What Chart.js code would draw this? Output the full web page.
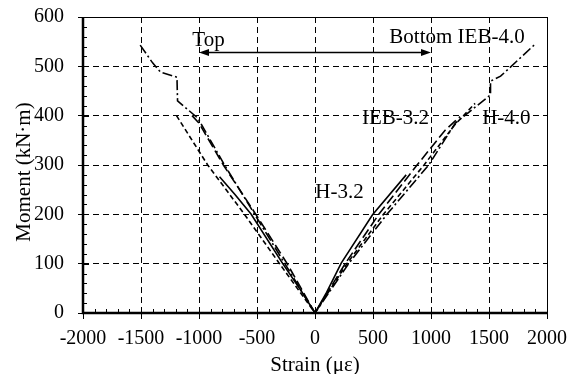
<!DOCTYPE html>
<html>
<head>
<meta charset="utf-8">
<script src="https://cdn.jsdelivr.net/npm/chart.js@4.4.1/dist/chart.umd.min.js"></script>
<style>
  html, body { margin: 0; padding: 0; background: #fff; }
  #wrap { width: 578px; height: 374px; }
</style>
</head>
<body>
<div id="wrap"><canvas id="momentChart" width="578" height="374"></canvas></div>
<script>
// Each curve runs from the top-fibre tip (negative strain) down through the origin
// and up to the bottom-fibre tip (positive strain). Strain in με, moment in kN·m.
const h32Strain = [-823, -690, -550, -278, -120, 0, 100, 226, 496, 786];
const h32Moment = [276, 240, 200, 100, 45, 0, 42, 101, 199, 280];

const ieb32Strain = [-1060, -1000, -790, -510, -240, 0, 260, 550, 880, 1120, 1250];
const ieb32Moment = [400, 385, 300, 200, 100, 0, 100, 200, 300, 370, 398];

const h40Strain = [-1194, -925, -608, -306, 0, 275, 590, 940, 1200, 1380];
const h40Moment = [400, 300, 200, 100, 0, 100, 200, 300, 380, 425];

const ieb40Strain = [-1507, -1400, -1330, -1190, -1185, -1010, -780, -520, -260, 0,
                     290, 620, 980, 1210, 1513, 1513, 1600, 1907];
const ieb40Moment = [543, 507, 488, 478, 430, 395, 300, 200, 100, 0,
                     100, 200, 300, 385, 442, 470, 480, 547];

// axis ticks
const xTicks = [-2000, -1500, -1000, -500, 0, 500, 1000, 1500, 2000];
const yTicks = [0, 100, 200, 300, 400, 500, 600];

// text written on the plot, placed at data coordinates
const noteText = ['Top', 'Bottom IEB-4.0', 'IEB-3.2', 'H-4.0', 'H-3.2'];
const noteX = [-918, 1224, 694, 1650, 211];
const noteY = [553, 559, 395, 395, 245];

// double arrow between top and bottom fibres
const arrowX = [-1000, 1000];
const arrowY = 530;

const serif = "'Liberation Serif', 'Times New Roman', serif";

function toPoints(xs, ys) {
    return xs.map((x, i) => ({ x: x, y: ys[i] }));
}

function curve(label, xs, ys, dash) {
    return {
        label: label,
        data: toPoints(xs, ys),
        showLine: true,
        borderColor: '#000',
        borderWidth: 1.6,
        borderDash: dash,
        pointRadius: 0,
        fill: false,
        tension: 0
    };
}

// minor ticks inside the frame, frame lines, arrow, notes and axis titles
const decorPlugin = {
    id: 'decor',
    afterDatasetsDraw(chart) {
        const ctx = chart.ctx;
        const xs = chart.scales.x;
        const ys = chart.scales.y;
        const a = chart.chartArea;
        ctx.save();
        ctx.strokeStyle = '#000';
        ctx.fillStyle = '#000';

        // inward ticks
        ctx.lineWidth = 1;
        ctx.beginPath();
        for (let v = -2000; v <= 2000; v += 100) {
            const px = Math.round(xs.getPixelForValue(v)) + 0.5;
            const len = (v % 500 === 0) ? 6 : 4;
            ctx.moveTo(px, a.bottom);
            ctx.lineTo(px, a.bottom - len);
        }
        for (let v = 0; v <= 600; v += 20) {
            const py = Math.round(ys.getPixelForValue(v)) + 0.5;
            const len = (v % 100 === 0) ? 6 : 4;
            ctx.moveTo(a.left, py);
            ctx.lineTo(a.left + len, py);
        }
        ctx.stroke();

        // frame: heavy left/bottom, thin top/right
        ctx.lineWidth = 1;
        ctx.beginPath();
        ctx.moveTo(a.left, a.top + 0.5);
        ctx.lineTo(a.right + 0.5, a.top + 0.5);
        ctx.lineTo(a.right + 0.5, a.bottom);
        ctx.stroke();
        ctx.lineWidth = 2.5;
        ctx.beginPath();
        ctx.moveTo(a.left, a.top);
        ctx.lineTo(a.left, a.bottom);
        ctx.lineTo(a.right + 1, a.bottom);
        ctx.stroke();

        // arrow
        const x1 = xs.getPixelForValue(arrowX[0]);
        const x2 = xs.getPixelForValue(arrowX[1]);
        const ya = Math.round(ys.getPixelForValue(arrowY)) + 0.5;
        ctx.lineWidth = 1.6;
        ctx.beginPath();
        ctx.moveTo(x1 + 6, ya);
        ctx.lineTo(x2 - 6, ya);
        ctx.stroke();
        ctx.beginPath();
        ctx.moveTo(x1, ya);
        ctx.lineTo(x1 + 10, ya - 3.5);
        ctx.lineTo(x1 + 10, ya + 3.5);
        ctx.closePath();
        ctx.moveTo(x2, ya);
        ctx.lineTo(x2 - 10, ya - 3.5);
        ctx.lineTo(x2 - 10, ya + 3.5);
        ctx.closePath();
        ctx.fill();

        // notes
        ctx.font = '21px ' + serif;
        ctx.textAlign = 'center';
        ctx.textBaseline = 'middle';
        noteText.forEach((t, i) => {
            ctx.fillText(t, xs.getPixelForValue(noteX[i]), ys.getPixelForValue(noteY[i]));
        });

        // axis titles
        ctx.fillText('Strain (με)', (a.left + a.right) / 2, 365);
        ctx.translate(24, 172);
        ctx.rotate(-Math.PI / 2);
        ctx.fillText('Moment (kN·m)', 0, 0);
        ctx.restore();
    }
};

const config = {
    type: 'scatter',
    data: {
        datasets: [
            curve('H-3.2', h32Strain, h32Moment, []),
            curve('IEB-3.2', ieb32Strain, ieb32Moment, [10, 4]),
            curve('H-4.0', h40Strain, h40Moment, [5, 3]),
            curve('IEB-4.0', ieb40Strain, ieb40Moment, [10, 3, 2, 3])
        ]
    },
    options: {
        responsive: false,
        devicePixelRatio: 1,
        animation: false,
        layout: { padding: { left: 0, right: 31, top: 17, bottom: 0 } },
        plugins: {
            legend: { display: false },
            tooltip: { enabled: false }
        },
        scales: {
            x: {
                type: 'linear',
                min: -2000,
                max: 2000,
                afterFit: (scale) => {
                    scale.height = 61;
                    scale.paddingLeft = 0;
                    scale.paddingRight = 0;
                },
                afterBuildTicks: (scale) => { scale.ticks = xTicks.map(v => ({ value: v })); },
                ticks: {
                    color: '#000',
                    padding: 8,
                    maxRotation: 0,
                    font: { family: serif, size: 20 },
                    callback: (v) => String(v)
                },
                grid: {
                    color: '#000',
                    lineWidth: 1,
                    tickLength: 6,
                    tickColor: '#000',
                    tickBorderDash: []
                },
                border: { display: false, dash: [6, 4] }
            },
            y: {
                type: 'linear',
                min: 0,
                max: 600,
                afterFit: (scale) => {
                    scale.width = 83;
                    scale.paddingTop = 0;
                    scale.paddingBottom = 0;
                },
                afterBuildTicks: (scale) => { scale.ticks = yTicks.map(v => ({ value: v })); },
                ticks: {
                    color: '#000',
                    padding: 14,
                    font: { family: serif, size: 20 },
                    callback: (v) => String(v)
                },
                grid: {
                    color: '#000',
                    lineWidth: 1,
                    tickLength: 5,
                    tickColor: '#000',
                    tickBorderDash: []
                },
                border: { display: false, dash: [6, 4] }
            }
        }
    },
    plugins: [decorPlugin]
};

const ctx = document.getElementById('momentChart').getContext('2d');
const momentChart = new Chart(ctx, config);
</script>
</body>
</html>
